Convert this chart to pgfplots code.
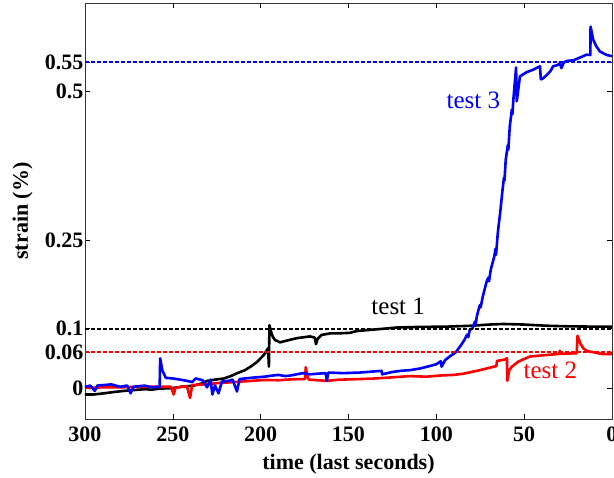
\documentclass[border=0pt]{standalone}
\usepackage{fontspec}
\setmainfont{Liberation Serif}
\usepackage{pgfplots}
\pgfplotsset{compat=1.18}
\newcommand\tkfont{\fontsize{22}{24}\selectfont\bfseries}
\newcommand\lbfont{\fontsize{25}{27}\selectfont}
\begin{document}
\begin{tikzpicture}
\path[use as bounding box] (-85pt,-59pt) rectangle (529pt,419pt);
\begin{axis}[
  at={(0,0)}, anchor=south west,
  scale only axis, width=527pt, height=416pt,
  x dir=reverse, xmin=0, xmax=300, ymin=-0.0524, ymax=0.6498,
  xtick={0,50,100,150,200,250,300},
  xticklabels={0,50,100,150,200,250,300},
  ytick={0,0.06,0.1,0.25,0.5,0.55},
  yticklabels={0,0.06,0.1,0.25,0.5,0.55},
  tick align=inside, major tick length=5pt,
  tick style={black, line width=0.6pt},
  axis line style={black!80, line width=0.7pt},
  ticklabel style={font=\tkfont},
  /pgf/number format/assume math mode=true,
  yticklabel style={xshift=2pt},
  xticklabel style={yshift=-4pt},
  xlabel={time (last seconds)},
  ylabel={strain (\%)},
  xlabel style={font=\tkfont, at={(rel axis cs:0.5,0)}, anchor=base, yshift=-51pt},
  ylabel style={font=\tkfont, at={([xshift=-57pt]rel axis cs:0,0.5)}, anchor=base},
  every axis plot/.append style={line width=2.6pt, line join=round},
  clip=true,
]
% test 1 (black)
\addplot[black] coordinates {
(300,-0.011) (295,-0.011) (289,-0.009) (284,-0.007) (278,-0.005) (270,-0.003) (265,-0.002) (262.6,-0.003) (257,-0.001) (251,-0.0005) (245,0.002) (238,0.004) (234,0.007) (230.4,0.012) (226,0.014) (220.9,0.016) (217,0.02) (213.3,0.025) (209,0.03) (205.7,0.036) (202,0.044) (198.1,0.056) (195.8,0.067) (195.3,0.036) (195.0,0.106) (194.2,0.096) (193.2,0.087) (191.9,0.081) (189,0.077) (185,0.080) (179.5,0.084) (172,0.087) (169.2,0.085) (168.5,0.074) (167.5,0.083) (165.3,0.0895) (160.6,0.092) (156.8,0.092) (149.2,0.093) (145.4,0.096) (137.8,0.098) (130,0.100) (122.6,0.102) (110,0.103) (94,0.1035) (80,0.105) (70,0.107) (62,0.108) (50,0.107) (37,0.105) (25,0.104) (10,0.1035) (0,0.1035)
};
% test 2 (red)
\addplot[red] coordinates {
(300,0.000) (290,0.001) (280,0.001) (270,0.002) (260,0.002) (251,0.002) (249.5,-0.011) (248.5,0.000) (245,0.002) (242,0.003) (240.2,-0.017) (239,0.005) (232,0.006) (225,0.008) (215,0.010) (205,0.012) (198,0.0135) (190,0.013) (181.4,0.0147) (174.8,0.015) (174.3,0.035) (173.5,0.020) (172.5,0.014) (162.4,0.012) (155,0.014) (143.5,0.015) (135,0.016) (124.5,0.018) (115,0.020) (105.5,0.019) (98,0.021) (90,0.022) (84.7,0.024) (75.2,0.030) (65.8,0.037) (65.5,0.0456) (61,0.048) (59.8,0.050) (59.6,0.012) (58.5,0.030) (57,0.036) (53,0.045) (46.7,0.053) (37.2,0.0557) (30,0.0574) (29.7,0.063) (29.3,0.0575) (20.1,0.0586) (19.6,0.088) (18,0.075) (16.4,0.067) (14,0.062) (10,0.060) (5,0.057) (0,0.0574)
};
% test 3 (blue)
\addplot[blue] coordinates {
(300,0.002) (297,0.004) (294.4,-0.005) (293,0.004) (285,0.006) (280,0.002) (276,0.004) (274,-0.009) (272.5,0.002) (266,0.004) (262,0.001) (257.5,0.002) (257.2,0.05) (256,0.03) (254,0.017) (250,0.016) (245.6,0.014) (242,0.012) (239,0.010) (237,0.016) (233,0.013) (230.5,0.001) (228.5,0.014) (227.5,-0.011) (226,0.004) (224,-0.009) (222,0.011) (218,0.012) (216,0.014) (213.5,-0.006) (212,0.015) (206,0.017) (198,0.019) (193,0.021) (190,0.022) (186,0.020) (183,0.021) (176,0.025) (172,0.023) (168,0.024) (163,0.025) (162.3,0.012) (161.5,0.026) (153,0.025) (143.5,0.026) (135,0.028) (131.2,0.029) (130.8,0.023) (125,0.027) (120,0.029) (115,0.030) (109,0.033) (105,0.036) (100,0.040) (97.5,0.045) (97,0.036) (95,0.047) (92,0.054) (89,0.060) (86,0.072) (84,0.081) (82.5,0.09) (81.8,0.086) (81,0.098) (79.5,0.100) (78,0.112) (77.5,0.108) (77,0.12) (76,0.132) (75.2,0.14) (74.8,0.136) (73.5,0.155) (71.5,0.178) (70.5,0.186) (70,0.18) (69,0.20) (67,0.222) (66.3,0.235) (66,0.225) (65,0.262) (63.5,0.30) (62.5,0.329) (61.5,0.355) (61.2,0.35) (60.5,0.385) (59.3,0.41) (59,0.402) (58.2,0.441) (57,0.47) (56.7,0.462) (56,0.492) (54.6,0.541) (54.2,0.484) (53.5,0.50) (52.4,0.526) (48.6,0.533) (45,0.537) (41,0.543) (40.5,0.521) (39.5,0.522) (37.2,0.528) (35,0.535) (33.5,0.543) (31,0.545) (29.7,0.548) (28.8,0.540) (27.5,0.549) (25.9,0.552) (22,0.553) (18,0.558) (14.5,0.5625) (12.3,0.562) (12.2,0.61) (10.7,0.588) (9,0.577) (6.9,0.568) (3,0.562) (0,0.56)
};
% reference levels
\addplot[blue, line width=2pt, dash pattern=on 4pt off 2pt] coordinates {(300,0.55) (0,0.55)};
\addplot[black, line width=2pt, dash pattern=on 4pt off 2pt] coordinates {(300,0.1) (0,0.1)};
\addplot[red, line width=2pt, dash pattern=on 4pt off 2pt] coordinates {(300,0.06) (0,0.06)};
\node[black, font=\lbfont] at (axis cs:121.7,0.1385) {test 1};
\node[red, font=\lbfont] at (axis cs:35.1,0.030) {test 2};
\node[blue, font=\lbfont] at (axis cs:78.9,0.485) {test 3};
\end{axis}
\end{tikzpicture}
\end{document}
